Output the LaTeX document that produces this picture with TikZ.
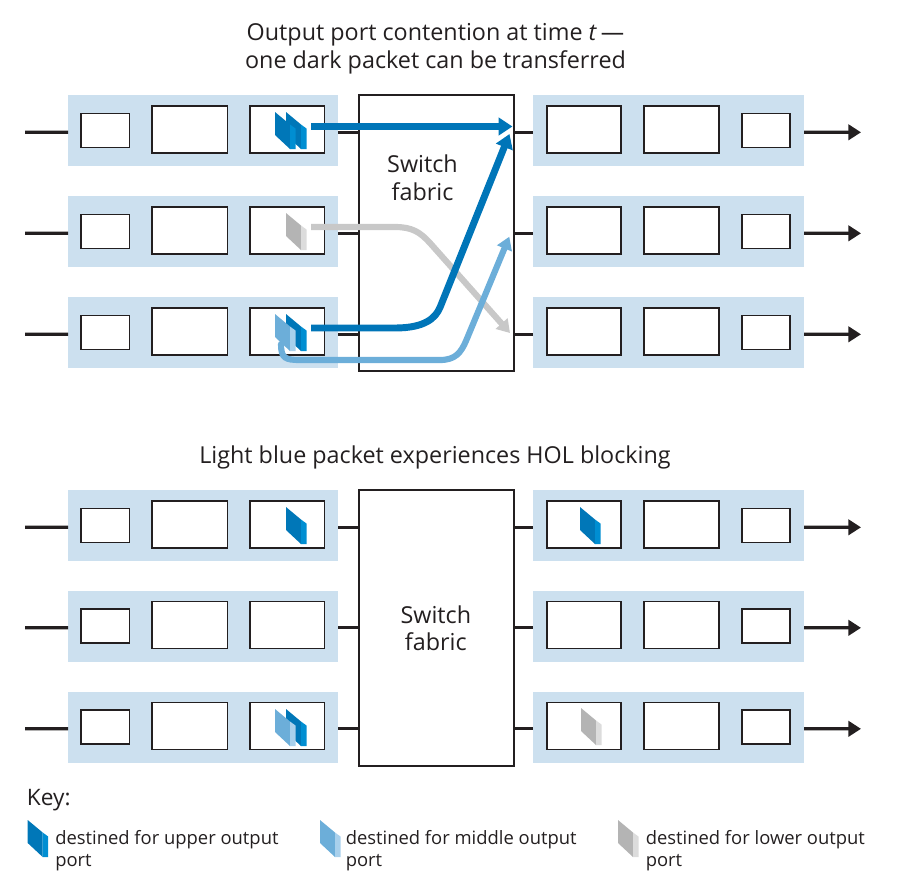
\documentclass[tikz,border=0pt]{standalone}
\usepackage{fontspec}
\setmainfont{Open Sans}
\usetikzlibrary{arrows.meta}
\definecolor{bandc}{HTML}{CCE0EF}
\definecolor{linec}{HTML}{231F20}
\definecolor{dkf}{HTML}{0077B8}
\definecolor{dks}{HTML}{008ED2}
\definecolor{lbf}{HTML}{6CAED9}
\definecolor{lbs}{HTML}{A8D0EC}
\definecolor{grf}{HTML}{B4B4B4}
\definecolor{grs}{HTML}{DCDCDC}
\definecolor{dkarrow}{HTML}{0075B8}
\definecolor{lbarrow}{HTML}{6CAED9}
\definecolor{grarrow}{HTML}{C8C8C8}
\newcommand\pkt[4]{%
  \begin{scope}[shift={(#1,#2)}]
    \fill[#3] (0,0) -- (15,12.5) -- (15,37) -- (0,23) -- cycle;
    \fill[#4] (15,12.5) -- (20.5,16.5) -- (20.5,37) -- (15,37) -- cycle;
  \end{scope}}
\tikzset{
  bandst/.style={fill=bandc, draw=none, minimum width=270*0.75pt, minimum height=71*0.75pt, inner sep=0, outer sep=0},
  obandst/.style={fill=bandc, draw=none, minimum width=271*0.75pt, minimum height=71*0.75pt, inner sep=0, outer sep=0},
  bx/.style 2 args={draw=linec, fill=white, line width=0.8pt, minimum width=#1*0.75pt, minimum height=#2*0.75pt, inner sep=0, outer sep=0},
  fabst/.style={draw=linec, fill=white, line width=0.8pt, minimum width=155*0.75pt, minimum height=276*0.75pt, inner sep=0, outer sep=0},
  blk/.style={draw=linec, line width=2.5pt},
  blkarr/.style={blk, -{Triangle[length=9.5pt, width=11.5pt]}},
  dkarr/.style={draw=dkarrow, line width=5.2pt, -{Triangle[length=10.5pt, width=13pt]}},
  lbarr/.style={draw=lbarrow, line width=4.6pt, -{Triangle[length=9.5pt, width=11.5pt]}},
  grarr/.style={draw=grarrow, line width=4.6pt, -{Triangle[length=9.5pt, width=11.5pt]}},
  ttl/.style={font=\fontsize{17.5pt}{20pt}\selectfont, text=linec, inner sep=0, anchor=base},
  keytxt/.style={font=\fontsize{13.8pt}{16pt}\selectfont, text=linec, inner sep=0, anchor=base west},
  low/.style={yshift=-1.35pt}
}
\begin{document}
\begin{tikzpicture}[x=0.75pt,y=-0.75pt]
\useasboundingbox (0,0) rectangle (899,883);

% switch fabrics
\node[fabst] (t-fab) at (436.5,233) {};
\node[fabst] (b-fab) at (436.5,628) {};

\foreach \d/\c/\r in {t/130.5/1, t/231.5/2, t/332.5/3, b/525.5/1, b/626/2, b/727/3}{
  % input port
  \node[bandst] (\d-in-\r) at (203,\c) {};
  \node[bx={48.5}{34}] (\d-ia-\r) at (105.25,\c) {};
  \node[bx={75.5}{47}] (\d-ib-\r) at (189.75,\c-1) {};
  \node[bx={74.5}{47}] (\d-ic-\r) at (287.25,\c-1) {};
  \coordinate (\d-src-\r) at (25,\c+1.8);
  \draw[blk] (\d-src-\r) -- ([low]\d-in-\r.west);
  \draw[blk] ([low]\d-in-\r.east) -- ([low]\d-in-\r.east -| \d-fab.west);
  % output port
  \node[obandst] (\d-out-\r) at (668.5,\c) {};
  \node[bx={74}{47}] (\d-oa-\r) at (584,\c-1) {};
  \node[bx={75}{47}] (\d-ob-\r) at (681.5,\c-1) {};
  \node[bx={48}{34}] (\d-oc-\r) at (766,\c) {};
  \coordinate (\d-dst-\r) at (861,\c+1.8);
  \draw[blk] ([low]\d-out-\r.west -| \d-fab.east) -- ([low]\d-out-\r.west);
  \draw[blkarr] ([low]\d-out-\r.east) -- (\d-dst-\r);
}

% texts
\node[ttl] (title1) at (435.5,40) {Output port contention at time \textit{t}\,—};
\node[ttl] (title2) at (435.5,68.3) {one dark packet can be transferred};
\node[ttl] (title3) at (435,463.3) {Light blue packet experiences HOL blocking};
\node[ttl] (tsw1) at (422.5,172.7) {Switch};
\node[ttl] (tsw2) at (422.5,200) {fabric};
\node[ttl] (bsw1) at (435.8,623.3) {Switch};
\node[ttl] (bsw2) at (435.8,650) {fabric};

% packets top diagram
\pkt{286}{112}{dkf}{dks}
\pkt{275}{112}{dkf}{dks}
\pkt{286}{213}{grf}{grs}
\pkt{286}{314}{dkf}{dks}
\pkt{275}{314}{lbf}{lbs}

% packets bottom diagram
\pkt{286}{507}{dkf}{dks}
\pkt{286}{709}{dkf}{dks}
\pkt{275}{709}{lbf}{lbs}
\pkt{580}{507}{dkf}{dks}
\pkt{581}{708}{grf}{grs}

% transfer arrows (top diagram)
\coordinate (g0) at (311,227);
\coordinate (g1) at (510,333);
\draw[grarr] (g0) -- (395,227) .. controls (412,227) and (420,232) .. (430,243) -- (g1);
\coordinate (l0) at (281,344);
\coordinate (l1) at (509.3,236.7);
\draw[lbarr, line cap=round] (l0) .. controls (281,358) and (285,360) .. (300,360) -- (440,360) .. controls (455,360) and (461,353) .. (466.4,340) -- (l1);
\coordinate (d0) at (311,328);
\coordinate (d1) at (509.5,134);
\draw[dkarr] (d0) -- (395,328) .. controls (425,328) and (435.7,318) .. (440.2,307) -- (d1);
\coordinate (u0) at (311,126.5);
\coordinate (u1) at (512.5,126.5);
\draw[dkarr] (u0) -- (u1);

% key
\node[font=\fontsize{17pt}{20pt}\selectfont, text=linec, inner sep=0, anchor=base west] (key) at (26.7,805.7) {Key:};
\pkt{27.7}{820}{dkf}{dks}
\pkt{320}{820}{lbf}{lbs}
\pkt{618}{820}{grf}{grs}
\node[keytxt] (k1a) at (55,844) {destined for upper output};
\node[keytxt] (k1b) at (55,866) {port};
\node[keytxt] (k2a) at (345.5,844) {destined for middle output};
\node[keytxt] (k2b) at (345.5,866) {port};
\node[keytxt] (k3a) at (645.5,844) {destined for lower output};
\node[keytxt] (k3b) at (645.5,866) {port};
\end{tikzpicture}
\end{document}
